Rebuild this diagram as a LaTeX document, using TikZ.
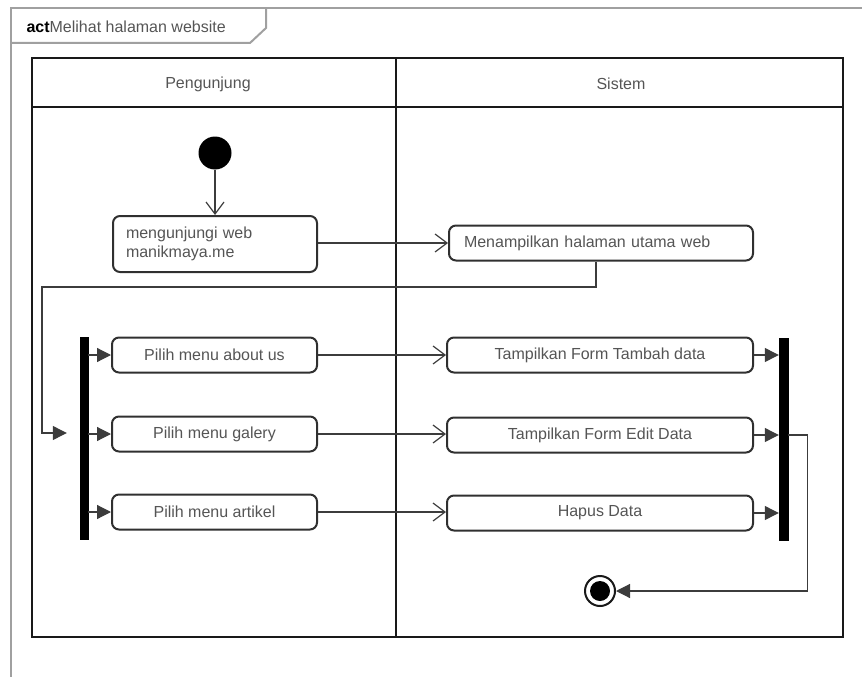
\documentclass[tikz,border=0pt]{standalone}
\usepackage{fontspec}
\setmainfont{Liberation Sans}
\definecolor{lanecol}{RGB}{25,25,25}
\definecolor{txtgray}{RGB}{85,85,85}
\definecolor{framegray}{RGB}{160,160,160}
\usepackage{tikz}
\usetikzlibrary{arrows.meta, positioning, calc}
\tikzset{
  actbox/.style={draw=lanecol!90, fill=white, rounded corners=7pt,
                 minimum width=#1, minimum height=35pt, align=center,
                 text=txtgray, line width=2pt, inner sep=0pt},
  barnode/.style={draw=black, fill=black, minimum width=8pt,
                  minimum height=202pt, inner sep=0pt},
  flow/.style={-{Straight Barb[length=12pt, width=18pt, line width=1.2pt]},
               line width=1.2pt, draw=lanecol!85},
  ctrl/.style={-{Triangle[length=14pt, width=14pt]}, line width=1.2pt,
               draw=lanecol!85},
}

\begin{document}
\begin{tikzpicture}[x=1pt, y=-1pt, font=\fontsize{16}{19}\selectfont,
      lane/.style ={line width=2.2pt, lanecol},
      frm/.style  ={line width=2pt, framegray},
      startnd/.style={circle, fill=black, minimum size=33pt, inner sep=0pt},
      endout/.style ={circle, draw=lanecol, line width=2pt, fill=white,
                      minimum size=30pt, inner sep=0pt},
      endin/.style  ={circle, fill=black, minimum size=20pt, inner sep=0pt}]
    \useasboundingbox (0,0) rectangle (862,677);

    % ── FRAME ───────────────────────────────────────────────
    \draw[frm] (11,677) -- (11,8) -- (862,8);
    \draw[frm] (11,43) -- (250,43) -- (266,28) -- (266,8);
    \node[anchor=west, text=txtgray] (title) at (23,27)
      {\textcolor{black}{\bfseries act}Melihat halaman website};

    % ── SWIMLANES ───────────────────────────────────────────
    \draw[lane] (32,58) rectangle (843,637);
    \draw[lane] (32,107) -- (843,107);
    \draw[lane] (396,58) -- (396,637);
    \node[text=txtgray] (hdrA) at (208,84) {Pengunjung};
    \node[text=txtgray] (hdrB) at (621,84) {Sistem};

    % ── PENGUNJUNG ──────────────────────────────────────────
    \node[startnd] (start) at (215,153) {};
    \node[actbox=204pt, minimum height=56pt, text width=178pt, align=left]
      (visit) at (215,244) {mengunjungi web\\manikmaya.me};
    \node[barnode] (fork) at (84,438) {};
    \node[actbox=205pt] (about)   at (214.5,355) {Pilih menu about us};
    \node[actbox=205pt] (galery)  at (214.5,434) {Pilih menu galery};
    \node[actbox=205pt] (artikel) at (214.5,512) {Pilih menu artikel};

    % ── SISTEM ──────────────────────────────────────────────
    \node[actbox=304pt, text width=274pt, align=left]
      (home) at (601,243) {Menampilkan halaman utama web};
    \node[actbox=306pt] (tambah) at (600,355) {Tampilkan Form Tambah data};
    \node[actbox=306pt] (edit)   at (600,435) {Tampilkan Form Edit Data};
    \node[actbox=306pt] (hapus)  at (600,513) {Hapus Data};
    \node[barnode, minimum width=9pt] (join) at (783.5,439) {};
    \node[endout] (end) at (600,591) {};
    \node[endin] (endc) at (end) {};

    % ── CONNECTORS ──────────────────────────────────────────
    \coordinate (bend) at (42,287);
    \draw[flow] (start) -- (visit);
    \draw[flow] (visit.east |- home.west) -- (home.west);
    \draw[ctrl, shorten >=13pt] ([xshift=-5pt]home.south) |- (bend)
      |- ([yshift=5pt]fork.west);
    \foreach \a in {about, galery, artikel}
      \draw[ctrl] (fork.east |- \a.west) -- (\a.west);
    \draw[flow] (about.east)   -- (about.east -| tambah.west);
    \draw[flow] (galery.east)  -- (galery.east -| edit.west);
    \draw[flow] (artikel.east) -- (artikel.east -| hapus.west);
    \foreach \b in {tambah, edit, hapus}
      \draw[ctrl] (\b.east) -- (\b.east -| join.west);
    \draw[ctrl] (join.east |- edit.east) -- ++(19,0) |- (end.east);
  \end{tikzpicture}
\end{document}
